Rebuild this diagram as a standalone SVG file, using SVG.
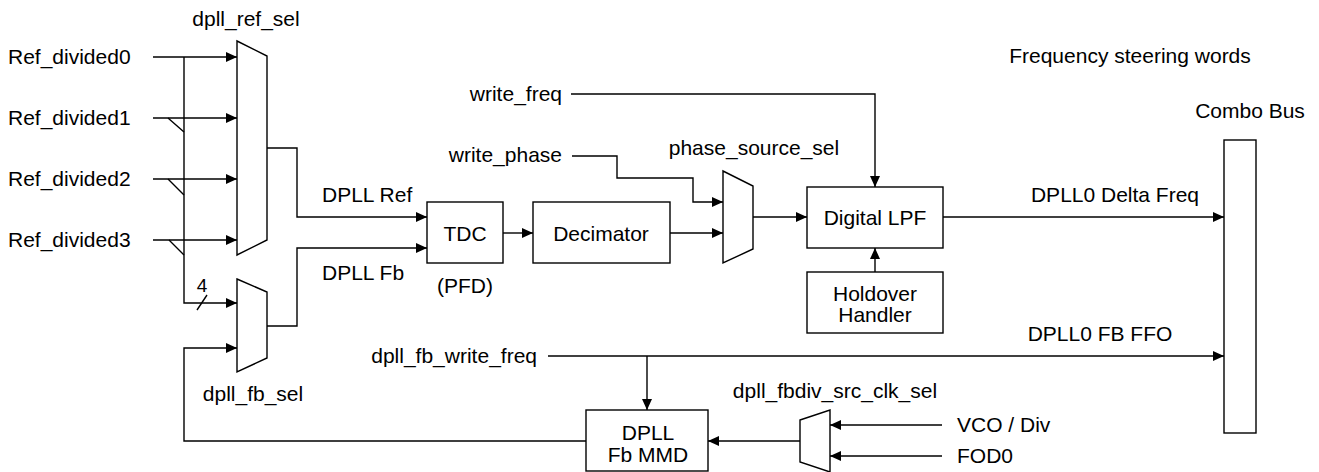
<svg xmlns="http://www.w3.org/2000/svg" width="1319" height="472" viewBox="0 0 1319 472">
<style>
text{font-family:"Liberation Sans",Arial,sans-serif;font-size:21px;fill:#000}
.s{fill:none;stroke:#000;stroke-width:1.4}
.b{fill:#fff;stroke:#000;stroke-width:1.4}
.m{text-anchor:middle}
</style>
<defs>
<marker id="a" markerUnits="userSpaceOnUse" markerWidth="11" markerHeight="10" refX="11" refY="5" orient="auto" viewBox="0 0 11 10">
<path d="M0,0 L11,5 L0,10 z" fill="#000"/>
</marker>
</defs>
<rect width="1319" height="472" fill="#fff"/>
<g id="connectors" class="s">
<path d="M153,57 H237" marker-end="url(#a)"/>
<path d="M153,118 H237" marker-end="url(#a)"/>
<path d="M153,179 H237" marker-end="url(#a)"/>
<path d="M153,240 H237" marker-end="url(#a)"/>
<path d="M184,57 V303 H237" marker-end="url(#a)"/>
<path d="M168,118 L184,132 M168,179 L184,195 M169,240 L184,255"/>
<path d="M197,310 L207,295"/>
<path d="M267,148 H297 V217 H427" marker-end="url(#a)"/>
<path d="M267,326 H297 V248 H427" marker-end="url(#a)"/>
<path d="M586,441 H184 V348 H237" marker-end="url(#a)"/>
<path d="M503,233 H533" marker-end="url(#a)"/>
<path d="M670,233 H723" marker-end="url(#a)"/>
<path d="M572,156 H617 V178 H693 V202 H723" marker-end="url(#a)"/>
<path d="M571,94 H875 V187" marker-end="url(#a)"/>
<path d="M753,217 H807" marker-end="url(#a)"/>
<path d="M875,272 V248" marker-end="url(#a)"/>
<path d="M943,217 H1224" marker-end="url(#a)"/>
<path d="M548,356 H1224" marker-end="url(#a)"/>
<path d="M647,356 V410" marker-end="url(#a)"/>
<path d="M800,441 H708" marker-end="url(#a)"/>
<path d="M942,425 H830" marker-end="url(#a)"/>
<path d="M942,456 H830" marker-end="url(#a)"/>
</g>
<g id="inputs">
<text x="8" y="64">Ref_divided0</text>
<text x="8" y="125">Ref_divided1</text>
<text x="8" y="186">Ref_divided2</text>
<text x="8" y="247">Ref_divided3</text>
<text x="202" y="292" class="m" style="font-size:19px">4</text>
</g>
<g id="ref_mux">
<polygon class="b" points="237,41 267,56 267,240 237,255"/>
<text x="246" y="26" class="m">dpll_ref_sel</text>
</g>
<g id="fb_mux">
<polygon class="b" points="237,279 267,292 267,358 237,372"/>
<text x="253" y="401" class="m">dpll_fb_sel</text>
</g>
<g id="signal_labels">
<text x="322" y="202">DPLL Ref</text>
<text x="322" y="280">DPLL Fb</text>
<text x="562" y="162" style="text-anchor:end">write_phase</text>
<text x="562" y="101" style="text-anchor:end">write_freq</text>
<text x="537" y="363" style="text-anchor:end">dpll_fb_write_freq</text>
<text x="1115" y="202" class="m">DPLL0 Delta Freq</text>
<text x="1100" y="341" class="m">DPLL0 FB FFO</text>
<text x="1130" y="63" class="m">Frequency steering words</text>
<text x="957" y="432">VCO / Div</text>
<text x="957" y="463">FOD0</text>
</g>
<g id="tdc">
<rect class="b" x="427" y="202" width="76" height="61"/>
<text x="465" y="241" class="m">TDC</text>
<text x="465" y="293" class="m">(PFD)</text>
</g>
<g id="decimator">
<rect class="b" x="533" y="202" width="137" height="61"/>
<text x="601" y="241" class="m">Decimator</text>
</g>
<g id="phase_mux">
<polygon class="b" points="723,171 753,186 753,249 723,263"/>
<text x="754" y="155" class="m">phase_source_sel</text>
</g>
<g id="digital_lpf">
<rect class="b" x="807" y="187" width="136" height="61"/>
<text x="875" y="225" class="m">Digital LPF</text>
</g>
<g id="holdover">
<rect class="b" x="807" y="272" width="136" height="61"/>
<text x="875" y="301" class="m">Holdover</text>
<text x="875" y="322" class="m">Handler</text>
</g>
<g id="combo_bus">
<rect class="b" x="1224" y="140" width="32" height="293"/>
<text x="1250" y="118" class="m">Combo Bus</text>
</g>
<g id="fb_mmd">
<rect class="b" x="586" y="410" width="122" height="61"/>
<text x="648" y="440" class="m">DPLL</text>
<text x="648" y="462" class="m">Fb MMD</text>
</g>
<g id="fbdiv_mux">
<polygon class="b" points="800,420 830,410 830,472 800,462"/>
<text x="835" y="398" class="m">dpll_fbdiv_src_clk_sel</text>
</g>
</svg>
